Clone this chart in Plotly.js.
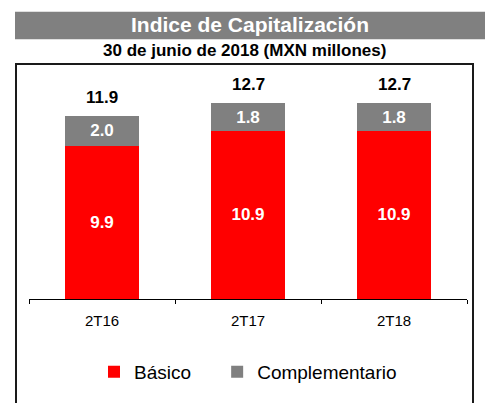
<!DOCTYPE html>
<html>
<head>
<meta charset="utf-8">
<script src="https://cdn.plot.ly/plotly-3.0.1.min.js"></script>
<style>html,body{margin:0;padding:0;background:#fff;}#chart{width:485px;height:403px;}</style>
</head>
<body>
<div id="chart"></div>
<script>
const categories = ["2T16", "2T17", "2T18"];
const basico = [9.9, 10.9, 10.9];
const complementario = [2.0, 1.8, 1.8];
const totals = [11.9, 12.7, 12.7];
const seriesNames = ["Básico", "Complementario"];

const FONT = "Arial, 'Liberation Sans', sans-serif";
const fmt = v => "<b>" + v.toFixed(1) + "</b>";
const PAD = "\u00A0\u00A0\u00A0\u00A0";

const traces = [
  {
    type: "bar", name: seriesNames[0] + PAD, x: categories, y: basico,
    marker: {color: "#FF0000", line: {width: 0}},
    text: basico.map(fmt), textposition: "inside", insidetextanchor: "middle",
    textangle: 0, constraintext: "none",
    textfont: {family: FONT, size: 17, color: "#FFFFFF"},
    hoverinfo: "skip"
  },
  {
    type: "bar", name: seriesNames[1], x: categories, y: complementario,
    marker: {color: "#808080", line: {width: 0}},
    text: complementario.map(fmt), textposition: "inside", insidetextanchor: "middle",
    textangle: 0, constraintext: "none",
    textfont: {family: FONT, size: 17, color: "#FFFFFF"},
    hoverinfo: "skip"
  }
];

// plot area: x 29..467, y 60..303
const annotations = categories.map((c, i) => ({
  x: c, y: totals[i], xref: "x", yref: "y",
  text: fmt(totals[i]), showarrow: false, yanchor: "bottom", yshift: 7,
  font: {family: FONT, size: 17, color: "#000000"}
}));
annotations.push({
  xref: "paper", yref: "paper", x: (244 - 29) / 438, y: (303 - 50) / 243,
  xanchor: "center", yanchor: "middle", showarrow: false,
  text: "<b>30 de junio de 2018 (MXN millones)</b>",
  font: {family: FONT, size: 17, color: "#000000"}
});

const layout = {
  width: 485, height: 403,
  margin: {l: 29, r: 18, t: 60, b: 100, pad: 0},
  paper_bgcolor: "#FFFFFF", plot_bgcolor: "#FFFFFF",
  font: {family: FONT, color: "#000000"},
  title: {
    text: "<b>Indice de Capitalización</b>",
    font: {family: FONT, size: 21, color: "#FFFFFF"},
    x: 250 / 485, xanchor: "center", xref: "container",
    y: 1 - 25 / 403, yanchor: "middle", yref: "container"
  },
  barmode: "stack",
  bargap: 0.49,
  showlegend: true,
  legend: {
    orientation: "h", x: (248 - 29) / 438, xanchor: "center",
    y: (303 - 377) / 243, yanchor: "middle",
    font: {family: FONT, size: 19, color: "#000000"},
    traceorder: "normal", itemwidth: 30
  },
  xaxis: {
    type: "category", showline: true, linecolor: "#000000", linewidth: 1,
    ticks: "outside", tickson: "boundaries", ticklen: 4, tickcolor: "#000000",
    ticklabelstandoff: 8,
    tickfont: {family: FONT, size: 15, color: "#000000"},
    showgrid: false, zeroline: false, fixedrange: true
  },
  yaxis: {
    visible: false, range: [0, 15.5], showgrid: false, zeroline: false, fixedrange: true
  },
  annotations: annotations,
  shapes: [
    {
      type: "rect", xref: "paper", yref: "paper", layer: "below",
      x0: (15 - 29) / 438, x1: (490 - 29) / 438,
      y0: (303 - 39) / 243, y1: (303 - 11) / 243,
      fillcolor: "#808080", line: {width: 0}
    },
    {
      type: "rect", xref: "paper", yref: "paper", layer: "below",
      x0: (16 - 29) / 438, x1: (473 - 29) / 438,
      y0: (303 - 420) / 243, y1: (303 - 64) / 243,
      fillcolor: "rgba(0,0,0,0)", line: {width: 2, color: "#1a1a1a"}
    }
  ]
};

Plotly.newPlot("chart", traces, layout, {displayModeBar: false, staticPlot: true});
</script>
</body>
</html>
